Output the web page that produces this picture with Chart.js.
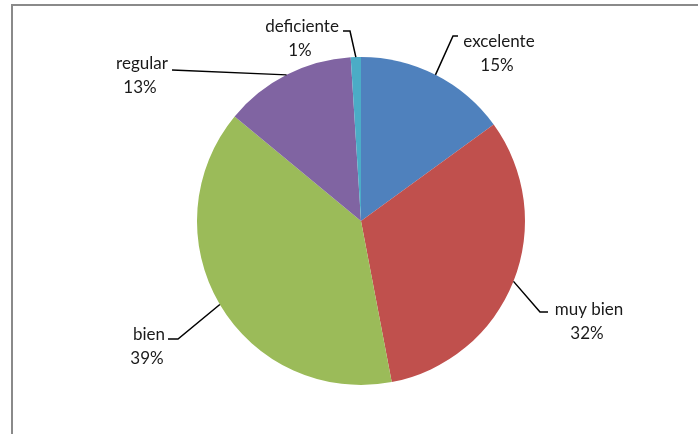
<!DOCTYPE html>
<html>
<head>
<meta charset="utf-8">
<script src="https://cdn.jsdelivr.net/npm/chart.js@4"></script>
<style>
  html, body { margin: 0; padding: 0; background: #fff; overflow: hidden; }
  #wrap { position: relative; width: 698px; height: 434px; }
  #frame { position: absolute; left: 11px; top: 4px; right: -10px; bottom: -10px;
           border-left: 2px solid #8a8a8a; border-top: 2px solid #8a8a8a; }
  canvas { position: absolute; left: 0; top: 0; }
</style>
</head>
<body>
<div id="wrap">
  <div id="frame"></div>
  <canvas id="pieChart" width="698" height="434"></canvas>
</div>
<script>
const categories = ['excelente', 'muy bien', 'bien', 'regular', 'deficiente'];
const percentages = [15, 32, 39, 13, 1];
const sliceColors = ['#4F81BD', '#C0504D', '#9BBB59', '#8064A2', '#4BACC6'];

// where Excel put each label (first-line centre x, baseline) and the leader stub
const labelLayout = [
  { x: 499, base: 47, stub: [[458, 36], [453, 36]] },
  { x: 589, base: 315, stub: [[548, 312], [540, 312]] },
  { x: 149, base: 340, stub: [[168, 339], [178, 339]] },
  { x: 142, base: 69, stub: [[172, 70]] },
  { x: 302, base: 32, stub: [[343, 31], [350, 31]] }
];

const leaderLabels = {
  id: 'leaderLabels',
  afterDatasetsDraw(chart) {
    const ctx = chart.ctx;
    const meta = chart.getDatasetMeta(0);
    const values = chart.data.datasets[0].data;
    const total = values.reduce((a, b) => a + b, 0);
    ctx.save();
    meta.data.forEach((arc, i) => {
      const p = arc.getProps(['x', 'y', 'startAngle', 'endAngle', 'outerRadius'], true);
      const mid = (p.startAngle + p.endAngle) / 2;
      const ex = p.x + Math.cos(mid) * p.outerRadius;
      const ey = p.y + Math.sin(mid) * p.outerRadius;
      const lay = labelLayout[i];

      ctx.strokeStyle = '#000';
      ctx.lineWidth = 1.5;
      ctx.beginPath();
      ctx.moveTo(lay.stub[0][0], lay.stub[0][1]);
      lay.stub.slice(1).forEach(pt => ctx.lineTo(pt[0], pt[1]));
      ctx.lineTo(ex, ey);
      ctx.stroke();

      ctx.fillStyle = '#1a1a1a';
      ctx.font = '17px Lato';
      ctx.textAlign = 'center';
      ctx.textBaseline = 'alphabetic';
      ctx.fillText(chart.data.labels[i], lay.x, lay.base);
      ctx.fillText(Math.round(values[i] / total * 100) + '%', lay.x - 2, lay.base + 24);
    });
    ctx.restore();
  }
};

const ctx = document.getElementById('pieChart').getContext('2d');
new Chart(ctx, {
  type: 'pie',
  data: {
    labels: categories,
    datasets: [{
      data: percentages,
      backgroundColor: sliceColors,
      borderWidth: 0
    }]
  },
  options: {
    responsive: false,
    animation: false,
    layout: { padding: { left: 161, right: 137, top: 57, bottom: 49 } },
    plugins: {
      legend: { display: false },
      tooltip: { enabled: false }
    }
  },
  plugins: [leaderLabels]
});
</script>
</body>
</html>
